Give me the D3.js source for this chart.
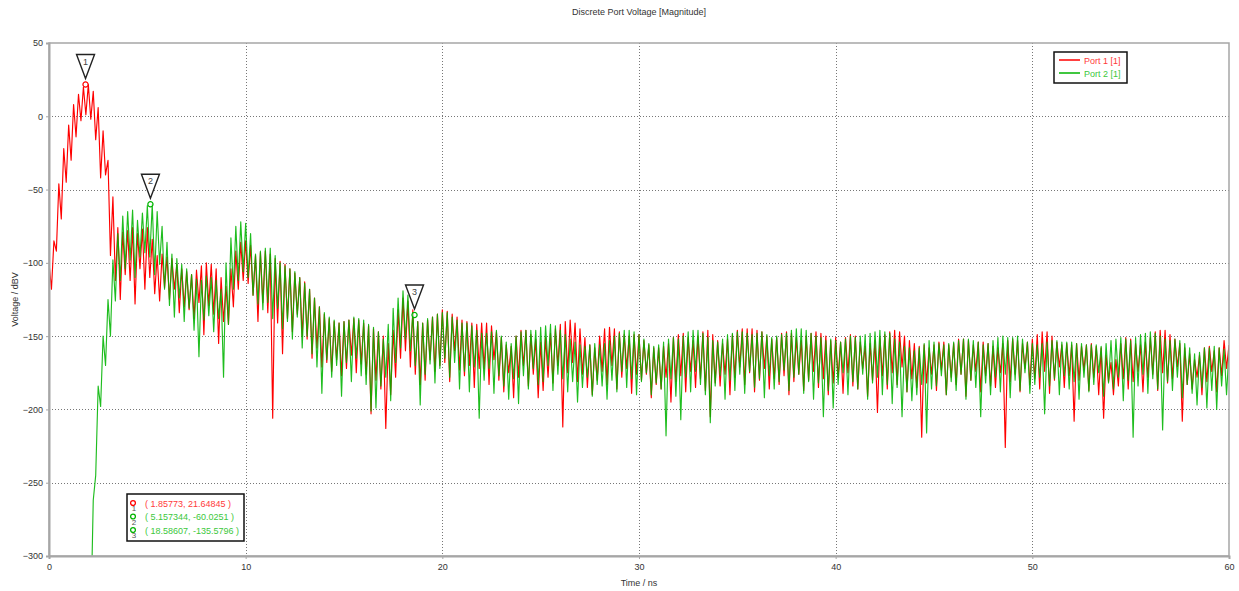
<!DOCTYPE html>
<html>
<head>
<meta charset="utf-8">
<script src="https://cdn.jsdelivr.net/npm/d3@7"></script>
<style>
  html, body { margin: 0; padding: 0; background: #fff; }
  svg { display: block; font-family: "Liberation Sans", Arial, sans-serif; }
</style>
</head>
<body>
<div id="chart"></div>
<script>
const chartTitle = 'Discrete Port Voltage [Magnitude]';
const xLabel = 'Time / ns';
const yLabel = 'Voltage / dBV';
const timeTicks = [0, 10, 20, 30, 40, 50, 60];
const voltageTicks = [50, 0, -50, -100, -150, -200, -250, -300];
const seriesNames = ['Port 1 [1]', 'Port 2 [1]'];

// both ports sampled every 0.125 ns, alternating crest / notch of the ringing
const sampleStep = 0.125;
const port1Start = 0;
const port1 = [
  -100, -118, -85, -92, -46, -70, -22, -45,
  -6, -30, 8, -14, 15, -3, 20, 1,
  21.6, -2, 17, -16, 6, -42, -10, -40,
  -30, -95, -55, -112, -76, -125, -79, -108,
  -78, -112, -76, -128, -80, -104, -77, -118,
  -76, -110, -84, -121, -95, -126, -94, -117,
  -96, -125, -97, -118, -101, -134, -104, -130,
  -106, -132, -108, -138, -105, -127, -102, -149,
  -100, -129, -101, -135, -104, -155, -110, -140,
  -116, -142, -104, -130, -92, -118, -86, -112,
  -85, -114, -88, -122, -95, -140, -93, -127,
  -92, -134, -94, -206, -97, -141, -99, -162,
  -101, -138, -104, -147, -107, -135, -110, -150,
  -113, -152, -118, -165, -124, -158, -130, -171,
  -135, -168, -138, -174, -140, -166, -141, -177,
  -140, -172, -139, -163, -138, -175, -139, -169,
  -141, -176, -143, -203, -145, -180, -147, -186,
  -150, -213, -155, -190, -146, -178, -132, -165,
  -124, -160, -126, -171, -132, -176, -140, -183,
  -141, -180, -139, -166, -137, -174, -135, -170,
  -132, -168, -133, -181, -135, -160, -137, -173,
  -139, -177, -140, -170, -141, -185, -142, -172,
  -141, -172, -141, -183, -143, -166, -147, -180,
  -151, -188, -156, -175, -157, -192, -150, -178,
  -146, -170, -146, -184, -149, -176, -152, -192,
  -154, -187, -151, -178, -148, -182, -145, -170,
  -142, -212, -140, -175, -139, -168, -141, -181,
  -145, -176, -151, -185, -156, -190, -158, -180,
  -150, -174, -145, -183, -144, -170, -145, -186,
  -147, -178, -149, -172, -150, -189, -149, -176,
  -149, -180, -153, -176, -156, -192, -158, -183,
  -158, -186, -157, -178, -155, -195, -151, -181,
  -149, -177, -148, -188, -151, -174, -153, -185,
  -150, -179, -147, -187, -146, -205, -149, -182,
  -153, -184, -155, -176, -152, -190, -149, -178,
  -146, -171, -145, -183, -145, -175, -145, -188,
  -146, -180, -147, -172, -150, -186, -152, -179,
  -151, -183, -148, -177, -147, -190, -148, -181,
  -151, -176, -153, -187, -150, -180, -148, -174,
  -147, -185, -148, -179, -150, -190, -153, -182,
  -151, -178, -154, -189, -151, -175, -149, -184,
  -150, -186, -154, -172, -157, -191, -155, -180,
  -153, -202, -151, -177, -149, -186, -147, -175,
  -146, -183, -147, -171, -150, -188, -153, -179,
  -155, -185, -157, -219, -156, -182, -158, -176,
  -156, -187, -154, -173, -154, -190, -156, -178,
  -155, -183, -152, -176, -152, -191, -153, -180,
  -156, -174, -154, -188, -154, -177, -155, -184,
  -157, -185, -158, -175, -155, -226, -153, -181,
  -152, -176, -153, -188, -155, -172, -154, -183,
  -152, -179, -149, -186, -147, -174, -147, -189,
  -150, -180, -154, -171, -156, -185, -155, -177,
  -156, -208, -155, -180, -157, -173, -156, -187,
  -155, -178, -157, -190, -158, -206, -163, -181,
  -168, -190, -166, -184, -155, -179, -151, -186,
  -152, -181, -155, -174, -156, -188, -154, -178,
  -151, -176, -147, -187, -146, -175, -146, -182,
  -149, -179, -152, -171, -155, -208, -158, -183,
  -162, -186, -166, -178, -163, -190, -158, -181,
  -157, -174, -160, -188, -158, -177, -153, -172,
  -156
];

const port2Start = 2;
const port2 = [
  -340, -345, -262, -245, -184, -198, -150, -170,
  -125, -150, -98, -126, -80, -112, -68, -104,
  -65, -98, -64, -110, -71, -96, -66, -93,
  -61, -96, -60, -108, -65, -101, -75, -118,
  -86, -129, -94, -137, -97, -124, -101, -140,
  -104, -131, -108, -146, -111, -164, -112, -139,
  -109, -136, -110, -147, -112, -138, -118, -178,
  -100, -142, -83, -118, -75, -112, -72, -106,
  -73, -110, -80, -122, -94, -128, -92, -132,
  -90, -127, -90, -138, -95, -131, -100, -145,
  -102, -140, -104, -152, -106, -137, -110, -158,
  -114, -150, -118, -162, -124, -171, -130, -189,
  -134, -166, -137, -178, -139, -170, -141, -191,
  -140, -168, -139, -181, -137, -165, -138, -177,
  -139, -183, -142, -201, -144, -199, -147, -184,
  -152, -178, -142, -194, -131, -168, -124, -158,
  -119, -152, -122, -160, -134, -170, -140, -197,
  -141, -176, -138, -169, -137, -182, -135, -172,
  -134, -165, -134, -178, -137, -168, -139, -186,
  -141, -174, -141, -188, -143, -171, -146, -206,
  -148, -180, -148, -172, -147, -189, -146, -177,
  -150, -184, -154, -193, -155, -179, -150, -196,
  -147, -177, -146, -186, -146, -172, -146, -183,
  -144, -181, -143, -170, -142, -187, -143, -176,
  -146, -179, -149, -188, -152, -181, -154, -195,
  -156, -185, -157, -178, -156, -191, -155, -183,
  -156, -184, -155, -193, -153, -180, -150, -188,
  -148, -174, -146, -185, -146, -179, -147, -190,
  -149, -181, -152, -175, -155, -190, -157, -182,
  -156, -186, -154, -218, -152, -179, -151, -191,
  -152, -207, -150, -178, -147, -188, -146, -174,
  -146, -183, -148, -190, -151, -209, -153, -184,
  -154, -177, -152, -193, -149, -180, -148, -187,
  -147, -176, -147, -189, -148, -174, -149, -185,
  -148, -179, -147, -192, -149, -177, -151, -186,
  -150, -181, -149, -173, -148, -187, -146, -178,
  -145, -176, -145, -189, -146, -181, -148, -193,
  -150, -182, -151, -205, -153, -187, -152, -199,
  -153, -183, -154, -175, -152, -190, -150, -181,
  -151, -186, -150, -176, -149, -193, -148, -182,
  -147, -178, -146, -190, -147, -183, -148, -196,
  -152, -185, -154, -205, -157, -188, -158, -194,
  -160, -190, -158, -183, -155, -216, -153, -186,
  -154, -184, -155, -177, -156, -190, -155, -181,
  -154, -187, -153, -176, -152, -193, -152, -180,
  -153, -185, -154, -205, -156, -182, -155, -190,
  -153, -178, -151, -188, -150, -176, -151, -192,
  -151, -180, -150, -187, -152, -175, -154, -189,
  -155, -183, -156, -178, -155, -203, -154, -184,
  -153, -179, -153, -190, -154, -177, -154, -186,
  -154, -181, -155, -193, -155, -178, -156, -188,
  -156, -183, -156, -175, -157, -191, -155, -182,
  -153, -186, -152, -178, -151, -194, -152, -180,
  -153, -219, -151, -184, -149, -176, -148, -189,
  -147, -179, -148, -186, -150, -214, -152, -181,
  -153, -187, -152, -178, -153, -192, -155, -183,
  -158, -189, -162, -197, -161, -185, -158, -199,
  -158, -187, -157, -200, -158, -184, -159, -190,
  -160
];

const markerIds = [1, 2, 3];
const markerSeries = [0, 1, 1];
const markerTimes = [1.85773, 5.157344, 18.58607];
const markerValues = [21.64845, -60.0251, -135.5796];
const markerLabels = ['( 1.85773, 21.64845 )', '( 5.157344, -60.0251 )', '( 18.58607, -135.5796 )'];

const width = 1239, height = 591;
const plot = { left: 49, right: 1229, top: 43, bottom: 556 };
const lineColors = ['#ff0000', '#00b400'];
const textColors = ['#ff3a3a', '#3cc83c'];

const svg = d3.select('#chart').append('svg')
  .attr('width', width)
  .attr('height', height)
  .attr('viewBox', `0 0 ${width} ${height}`);

const x = d3.scaleLinear().domain([0, 60]).range([plot.left, plot.right]);
const y = d3.scaleLinear().domain([-300, 50]).range([plot.bottom, plot.top]);

svg.append('defs').append('clipPath').attr('id', 'plot-clip')
  .append('rect')
  .attr('x', plot.left).attr('y', plot.top)
  .attr('width', plot.right - plot.left).attr('height', plot.bottom - plot.top);

// grid
const grid = svg.append('g').attr('class', 'grid');
grid.selectAll('.vgrid')
  .data(timeTicks.filter(t => t > 0 && t < 60))
  .enter().append('line')
  .attr('x1', d => Math.round(x(d)) + 0.5).attr('x2', d => Math.round(x(d)) + 0.5)
  .attr('y1', plot.top).attr('y2', plot.bottom)
  .attr('stroke', '#777').attr('stroke-dasharray', '1,2');
grid.selectAll('.hgrid')
  .data(voltageTicks.filter(v => v > -300 && v < 50))
  .enter().append('line')
  .attr('x1', plot.left).attr('x2', plot.right)
  .attr('y1', d => Math.round(y(d)) + 0.5).attr('y2', d => Math.round(y(d)) + 0.5)
  .attr('stroke', '#777').attr('stroke-dasharray', '1,2');

// series
const line = d3.line().x(d => x(d[0])).y(d => y(d[1]));
const toPoints = (values, start) => values.map((v, i) => [start + i * sampleStep, v]);
const series = [toPoints(port1, port1Start), toPoints(port2, port2Start)];

svg.append('g').attr('clip-path', 'url(#plot-clip)')
  .selectAll('path')
  .data(series)
  .enter().append('path')
  .attr('d', line)
  .attr('fill', 'none')
  .attr('stroke', (d, i) => lineColors[i])
  .attr('stroke-opacity', (d, i) => i === 1 ? 0.88 : 1)
  .attr('stroke-width', 1.15)
  .attr('stroke-linejoin', 'round');

// frame
svg.append('rect')
  .attr('x', plot.left).attr('y', plot.top)
  .attr('width', plot.right - plot.left).attr('height', plot.bottom - plot.top)
  .attr('fill', 'none').attr('stroke', '#a6a6a6').attr('stroke-width', 1.5);

// axes
const yAxis = svg.append('g')
  .attr('transform', `translate(${plot.left},0)`)
  .call(d3.axisLeft(y).tickValues(voltageTicks).tickSize(3).tickPadding(3));
const xAxis = svg.append('g')
  .attr('transform', `translate(0,${plot.bottom})`)
  .call(d3.axisBottom(x).tickValues(timeTicks).tickSize(3).tickPadding(5));
[xAxis, yAxis].forEach(ax => {
  ax.select('.domain').attr('stroke', '#a6a6a6').attr('stroke-width', 2);
  ax.selectAll('.tick line').attr('stroke', '#a6a6a6');
  ax.selectAll('.tick text').attr('fill', '#333').style('font-size', '9px')
    .style('font-family', '"Liberation Sans", Arial, sans-serif');
});

svg.append('text')
  .attr('x', (plot.left + plot.right) / 2).attr('y', 15)
  .attr('text-anchor', 'middle').attr('font-size', 9).attr('fill', '#333')
  .text(chartTitle);
svg.append('text')
  .attr('x', (plot.left + plot.right) / 2).attr('y', 586)
  .attr('text-anchor', 'middle').attr('font-size', 9).attr('fill', '#333')
  .text(xLabel);
svg.append('text')
  .attr('transform', `translate(18,${(plot.top + plot.bottom) / 2}) rotate(-90)`)
  .attr('text-anchor', 'middle').attr('font-size', 9).attr('fill', '#333')
  .text(yLabel);

// curve markers
const markers = svg.append('g').selectAll('g')
  .data(markerIds)
  .enter().append('g')
  .attr('transform', (d, i) => `translate(${x(markerTimes[i])},${y(markerValues[i])})`);
markers.append('circle')
  .attr('r', 2.6)
  .attr('fill', '#fff')
  .attr('fill-opacity', 0.6)
  .attr('stroke', (d, i) => lineColors[markerSeries[i]])
  .attr('stroke-width', 1.2);
markers.append('path')
  .attr('d', 'M-9,-30 L9,-30 L0,-6 Z')
  .attr('fill', '#fff')
  .attr('stroke', '#222')
  .attr('stroke-width', 1.4)
  .attr('stroke-linejoin', 'miter');
markers.append('text')
  .attr('y', -20).attr('text-anchor', 'middle')
  .attr('font-size', 9).attr('fill', '#444')
  .text(d => d);

// legend
const legend = svg.append('g').attr('transform', 'translate(1054,52)');
legend.append('rect')
  .attr('width', 73).attr('height', 31)
  .attr('fill', '#fff').attr('stroke', '#111').attr('stroke-width', 1.5);
const legendRows = legend.selectAll('.row')
  .data(seriesNames)
  .enter().append('g')
  .attr('transform', (d, i) => `translate(0,${8 + i * 13})`);
legendRows.append('line')
  .attr('x1', 5).attr('x2', 26)
  .attr('stroke', (d, i) => lineColors[i]).attr('stroke-width', 1.5);
legendRows.append('text')
  .attr('x', 30).attr('y', 3.5)
  .attr('font-size', 9)
  .attr('fill', (d, i) => textColors[i])
  .text(d => d);

// marker readout box
const readout = svg.append('g').attr('transform', 'translate(127,494)');
readout.append('rect')
  .attr('width', 117).attr('height', 47)
  .attr('fill', '#fff').attr('stroke', '#111').attr('stroke-width', 1.5);
const readRows = readout.selectAll('.row')
  .data(markerIds)
  .enter().append('g')
  .attr('transform', (d, i) => `translate(0,${9 + i * 13.5})`);
readRows.append('circle')
  .attr('cx', 6).attr('r', 2.4)
  .attr('fill', 'none')
  .attr('stroke', (d, i) => lineColors[markerSeries[i]])
  .attr('stroke-width', 1.3);
readRows.append('text')
  .attr('x', 7).attr('y', 8)
  .attr('font-size', 8).attr('fill', '#555')
  .attr('text-anchor', 'middle')
  .text(d => d);
readRows.append('text')
  .attr('x', 18).attr('y', 3.5)
  .attr('font-size', 9)
  .attr('fill', (d, i) => textColors[markerSeries[i]])
  .text((d, i) => markerLabels[i]);
</script>
</body>
</html>
